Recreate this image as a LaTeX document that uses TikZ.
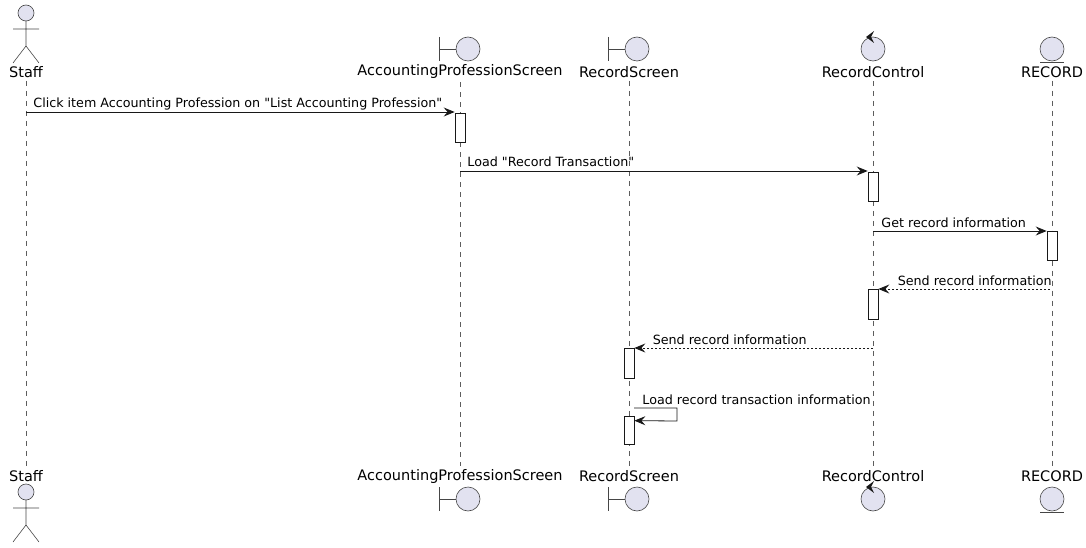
\documentclass[tikz,border=0pt]{standalone}
\usepackage{fontspec}
\newfontfamily\umlfont{DejaVu Sans}
\usepackage{tikz}
\usetikzlibrary{arrows.meta,positioning}
\definecolor{iconfill}{HTML}{E2E2F0}
\definecolor{umlline}{HTML}{181818}

\begin{document}
\begin{tikzpicture}[x=1pt, y=-1pt]
% STYLES
\tikzset{%
    plabel/.style={%
        inner sep=0pt, font=\umlfont\fontsize{14.5}{17}\selectfont, text=black
    },
    mlabel/.style={%
        inner sep=0pt, font=\umlfont\fontsize{12.7}{15}\selectfont, text=black
    },
    lifeline/.style={draw=umlline!70, line width=0.5pt, dash pattern=on 5pt off 5pt},
    icon/.style={draw=umlline!80, line width=0.6pt},
    iconball/.style={icon, fill=iconfill},
    act/.style={%
        rectangle, draw=umlline, fill=white, line width=0.7pt,
        minimum width=10pt, inner sep=0pt
    },
    msg/.style={draw=umlline, line width=0.8pt, -{Stealth[length=11pt,width=9pt,inset=4pt]}},
    reply/.style={msg, dash pattern=on 2pt off 2pt}
}
\useasboundingbox (0,0) rectangle (1086,548);
% Draw participants
\node [plabel] (staffT) at (26,72) {Staff};
\node [plabel] (apsT) at (460,72) {AccountingProfessionScreen};
\node [plabel] (rsT) at (629,72) {RecordScreen};
\node [plabel] (rcT) at (873,72) {RecordControl};
\node [plabel] (recT) at (1052,72) {RECORD};
\node [plabel] (staffB) at (26,476) {Staff};
\node [plabel] (apsB) at (460,476) {AccountingProfessionScreen};
\node [plabel] (rsB) at (629,476) {RecordScreen};
\node [plabel] (rcB) at (873,476) {RecordControl};
\node [plabel] (recB) at (1052,476) {RECORD};
% Draw the lifelines
\foreach \p in {staff,aps,rs,rc,rec}
    \draw[lifeline] ([yshift=-3pt]\p T.south) -- ([yshift=3pt]\p B.north);
% Draw icons (top and bottom)
\foreach \y in {0,479}{
    % actor
    \draw[iconball] (26,13+\y) circle (8);
    \draw[icon] (26,21+\y) -- (26,46+\y)
        (13,29+\y) -- (39,29+\y)
        (13,63+\y) -- (26,46+\y) -- (39,63+\y);
}
\foreach \y in {49,499}{
    % boundaries
    \foreach \x in {468,637}{
        \draw[icon] (\x-29,\y-12) -- (\x-29,\y+12) (\x-29,\y) -- (\x-12,\y);
        \draw[iconball] (\x,\y) circle (12);
    }
    % control
    \draw[iconball] (873,\y) circle (12);
    \fill[umlline] (866,\y-12) -- (874,\y-18) -- (871,\y-12) -- (874,\y-6) -- cycle;
    % entity
    \draw[iconball] (1052,\y) circle (12);
    \draw[icon] (1040,\y+13) -- (1064,\y+13);
}
% Draw activations
\node [act, minimum height=29pt] (a1) at (460,127.5) {};
\node [act, minimum height=29pt] (a2) at (873,186.5) {};
\node [act, minimum height=29pt] (a3) at (1052,245.5) {};
\node [act, minimum height=30pt] (a4) at (873,304) {};
\node [act, minimum height=30pt] (a5) at (629,363) {};
\node [act, minimum height=28pt] (a6) at (629,430) {};
% Draw messages
\coordinate (m1) at (26,112);
\coordinate (m2) at (460,171);
\coordinate (m3) at (873,231);
\coordinate (m4) at (1050,289);
\coordinate (m5) at (873,348);
\coordinate (m6) at (634,408);
\draw[msg] (m1) -- node[mlabel, at start, anchor=base west, xshift=7pt, yshift=4pt]
    {Click item Accounting Profession on "List Accounting Profession"} (m1 -| a1.west);
\draw[msg] (m2) -- node[mlabel, at start, anchor=base west, xshift=7pt, yshift=4pt]
    {Load "Record Transaction"} (m2 -| a2.west);
\draw[msg] (m3) -- node[mlabel, at start, anchor=base west, xshift=8pt, yshift=4pt]
    {Get record information} (m3 -| a3.west);
\draw[reply] (m4) -- node[mlabel, at end, anchor=base west, xshift=19pt, yshift=4pt]
    {Send record information} (m4 -| a4.east);
\draw[reply] (m5) -- node[mlabel, at end, anchor=base west, xshift=18pt, yshift=4pt]
    {Send record information} (m5 -| a5.east);
\draw[msg] (m6) -- node[mlabel, at start, anchor=base west, xshift=8pt, yshift=4pt]
    {Load record transaction information} ++(43,0) -- ++(0,13) -- ([yshift=-5pt]a6.north east);
\end{tikzpicture}
\end{document}
